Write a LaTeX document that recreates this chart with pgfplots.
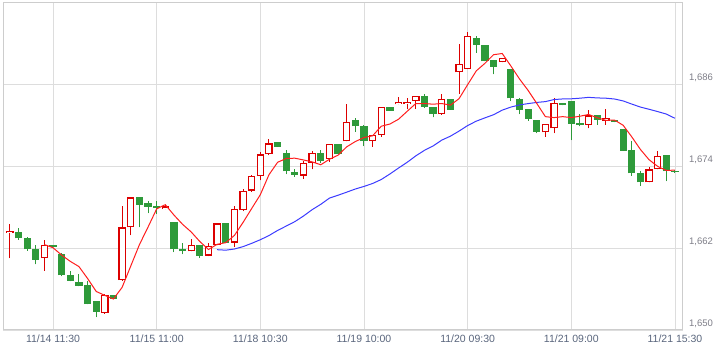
\documentclass[border=0pt]{standalone}
\usepackage{fontspec}
\setmainfont{Liberation Sans}
\usepackage{pgfplots}
\usepackage{pgfplotstable}
\pgfplotsset{compat=1.18}
\definecolor{cred}{RGB}{220,0,0}
\definecolor{cgreen}{RGB}{46,154,58}
\definecolor{mared}{RGB}{255,30,30}
\definecolor{mablue}{RGB}{60,60,255}
\definecolor{gridc}{RGB}{221,221,221}
\definecolor{framec}{RGB}{205,205,205}
\definecolor{xlab}{RGB}{90,102,125}
\definecolor{ylab}{RGB}{125,125,135}
% rising candles (close above open): index, open, high, low, close
\pgfplotstableread{
x O H L C
0 1664.2 1665.5 1660.5 1664.5
4 1660.5 1663.2 1658.7 1662.5
11 1652.5 1655.2 1652.4 1655.1
13 1657.3 1668.1 1657.2 1665.0
14 1665.0 1669.4 1663.9 1669.4
18 1667.7 1668.3 1667.7 1668.1
21 1661.5 1663.3 1661.5 1662.4
23 1660.9 1662.7 1660.8 1662.3
24 1662.4 1665.6 1662.4 1665.6
26 1662.8 1668.1 1662.2 1667.7
27 1667.5 1670.7 1667.4 1670.4
28 1670.4 1672.7 1670.2 1672.5
29 1672.5 1676.0 1671.9 1675.7
30 1675.7 1678.0 1675.6 1677.3
34 1672.6 1674.7 1672.1 1674.4
35 1674.4 1676.2 1673.5 1675.9
37 1675.0 1677.2 1674.6 1677.2
39 1677.6 1683.1 1677.6 1680.5
42 1677.6 1678.6 1676.8 1678.5
43 1678.5 1682.7 1678.3 1682.7
45 1683.0 1684.1 1683.0 1683.3
46 1683.1 1684.0 1682.3 1683.4
47 1683.5 1684.2 1682.4 1684.2
50 1681.6 1684.5 1681.5 1683.8
52 1687.7 1691.8 1684.6 1688.9
53 1688.2 1693.6 1688.2 1693.0
57 1689.2 1689.8 1689.2 1689.8
62 1678.9 1680.1 1678.3 1680.1
63 1679.5 1684.0 1678.8 1683.2
67 1680.0 1682.2 1679.5 1681.4
69 1680.6 1682.3 1680.0 1681.0
74 1671.6 1673.9 1671.6 1673.5
75 1673.5 1676.2 1673.5 1675.5
}\uptab
% falling candles (close below open): index, open, high, low, close
\pgfplotstableread{
x O H L C
1 1664.3 1664.9 1663.2 1663.4
2 1663.5 1663.6 1661.6 1661.8
3 1661.9 1662.5 1659.6 1660.3
5 1662.4 1662.4 1662.1 1662.2
6 1661.1 1661.3 1657.9 1658.0
7 1658.0 1658.7 1657.1 1657.2
8 1657.0 1658.2 1656.4 1656.5
9 1656.6 1657.1 1653.8 1653.8
10 1654.2 1654.2 1651.9 1652.7
12 1655.1 1655.1 1654.5 1654.6
15 1669.5 1669.5 1665.0 1668.3
16 1668.6 1668.9 1667.1 1668.0
17 1668.1 1668.9 1667.0 1667.9
19 1665.8 1665.8 1661.4 1661.8
20 1661.9 1662.7 1661.1 1661.5
22 1662.4 1662.4 1660.6 1660.9
25 1665.6 1665.6 1662.7 1662.7
31 1677.5 1677.5 1676.8 1676.8
32 1675.9 1676.4 1672.8 1673.2
33 1673.1 1673.5 1672.4 1672.7
36 1675.9 1676.3 1674.4 1674.7
38 1677.2 1677.2 1675.7 1675.7
40 1680.7 1681.0 1679.0 1679.8
41 1679.9 1680.0 1676.9 1677.6
44 1682.6 1682.6 1682.1 1682.1
48 1684.2 1684.5 1682.5 1682.7
49 1682.6 1682.6 1681.1 1681.6
51 1683.8 1683.8 1682.2 1682.2
54 1692.8 1693.0 1690.6 1691.7
55 1691.7 1691.7 1689.3 1689.3
56 1689.5 1689.5 1687.4 1688.5
58 1688.2 1688.2 1683.5 1683.9
59 1683.8 1683.9 1681.6 1682.2
60 1682.3 1682.3 1680.6 1680.9
61 1680.8 1680.8 1678.8 1679.0
64 1683.2 1683.2 1682.9 1682.9
65 1683.5 1683.5 1677.8 1680.2
66 1680.3 1681.6 1679.8 1680.0
68 1681.4 1681.4 1680.0 1680.8
70 1680.8 1680.8 1680.4 1680.4
71 1679.4 1679.4 1676.2 1676.2
72 1676.4 1677.7 1672.6 1672.9
73 1673.0 1673.2 1671.1 1671.6
76 1675.6 1675.6 1671.8 1673.2
77 1673.3 1673.4 1673.0 1673.2
}\downtab
\pgfplotsset{
 candle/.style={only marks, mark=*, mark size=0pt, mark options={draw=none, fill=none},
   error bars/y dir=plus, error bars/y explicit, error bars/error mark=none},
}
\begin{document}
\begin{tikzpicture}[x=1pt,y=1pt]
\path[use as bounding box] (0pt,0pt) rectangle (724pt,358pt);
\begin{axis}[
 at={(3pt,28pt)}, anchor=south west, scale only axis, width=680pt, height=327pt,
 xmin=-0.79, xmax=77.93, ymin=1650, ymax=1697.85,
 xtick={5,17,29,41,53,65,77},
 xticklabels={11/14 11:30, 11/15 11:00, 11/18 10:30, 11/19 10:00, 11/20 09:30, 11/21 09:00, 11/21 15:30},
 ytick={1650,1662,1674,1686},
 yticklabel pos=right,
 grid=major, grid style={gridc, line width=0.8pt},
 axis line style={framec, line width=1pt},
 major tick length=0pt,
 xticklabel style={xlab, font=\fontsize{10.5}{12}\selectfont, anchor=north, inner sep=0pt, yshift=-5pt},
 yticklabel style={ylab, font=\fontsize{9.5}{11}\selectfont, anchor=base west, inner sep=0pt, xshift=6pt, yshift=3pt},
 /pgf/number format/1000 sep={,},
 /pgf/number format/assume math mode=true,
]
% falling candles: wick, filled body
\addplot[candle, error bars/error bar style={cgreen, line width=1pt}]
  table[x=x, y=L, y error plus expr=\thisrow{H}-\thisrow{L}] {\downtab};
\addplot[candle, error bars/error bar style={cgreen, line width=7.2pt}]
  table[x=x, y=C, y error plus expr=\thisrow{O}-\thisrow{C}] {\downtab};
% rising candles: wick, red outline, white inside
\addplot[candle, error bars/error bar style={cred, line width=1pt}]
  table[x=x, y=L, y error plus expr=\thisrow{H}-\thisrow{L}] {\uptab};
\addplot[candle, error bars/error bar style={cred, line width=7.4pt}]
  table[x=x, y=O, y error plus expr=\thisrow{C}-\thisrow{O}] {\uptab};
\addplot[candle, error bars/error bar style={white, line width=5pt, shorten <=1.2pt, shorten >=1.2pt}]
  table[x=x, y=O, y error plus expr=\thisrow{C}-\thisrow{O}] {\uptab};
% 25-period moving average
\addplot[mablue, line width=1pt, mark=none] coordinates {
(24,1661.75) (25,1661.68) (26,1661.85) (27,1662.20) (28,1662.68) (29,1663.21)
(30,1663.82) (31,1664.57) (32,1665.21) (33,1665.86) (34,1666.68) (35,1667.61)
(36,1668.39) (37,1669.30) (38,1669.72) (39,1670.17) (40,1670.63) (41,1671.01)
(42,1671.44) (43,1672.02) (44,1672.83) (45,1673.70) (46,1674.54) (47,1675.48)
(48,1676.29) (49,1676.93) (50,1677.78) (51,1678.36) (52,1679.10) (53,1679.92)
(54,1680.56) (55,1681.04) (56,1681.50) (57,1682.17) (58,1682.62) (59,1682.93)
(60,1683.13) (61,1683.30) (62,1683.42) (63,1683.72) (64,1683.81) (65,1683.83)
(66,1683.92) (67,1684.04) (68,1683.96) (69,1683.92) (70,1683.80) (71,1683.52)
(72,1683.06) (73,1682.62) (74,1682.30) (75,1681.96) (76,1681.60) (77,1680.98)};
% 5-period moving average
\addplot[mared, line width=1pt, mark=none] coordinates {
(4,1662.50) (5,1662.04) (6,1660.96) (7,1660.04) (8,1659.28) (9,1657.54)
(10,1655.64) (11,1655.06) (12,1654.54) (13,1656.24) (14,1659.36) (15,1662.48)
(16,1665.06) (17,1667.72) (18,1668.34) (19,1666.82) (20,1665.46) (21,1664.34)
(22,1662.94) (23,1661.78) (24,1662.54) (25,1662.78) (26,1663.84) (27,1665.74)
(28,1667.78) (29,1669.80) (30,1672.72) (31,1674.54) (32,1675.10) (33,1675.14)
(34,1674.88) (35,1674.60) (36,1674.18) (37,1674.98) (38,1675.58) (39,1676.80)
(40,1677.58) (41,1678.16) (42,1678.42) (43,1679.82) (44,1680.14) (45,1680.84)
(46,1682.00) (47,1683.14) (48,1683.14) (49,1683.04) (50,1683.14) (51,1682.90)
(52,1683.84) (53,1685.90) (54,1687.92) (55,1689.02) (56,1690.28) (57,1690.46)
(58,1688.64) (59,1686.74) (60,1685.06) (61,1683.16) (62,1681.22) (63,1681.08)
(64,1681.22) (65,1681.08) (66,1681.28) (67,1681.54) (68,1681.06) (69,1680.68)
(70,1680.72) (71,1679.96) (72,1678.26) (73,1676.42) (74,1674.92) (75,1673.94)
(76,1673.34) (77,1673.40)};
\end{axis}
\end{tikzpicture}
\end{document}
